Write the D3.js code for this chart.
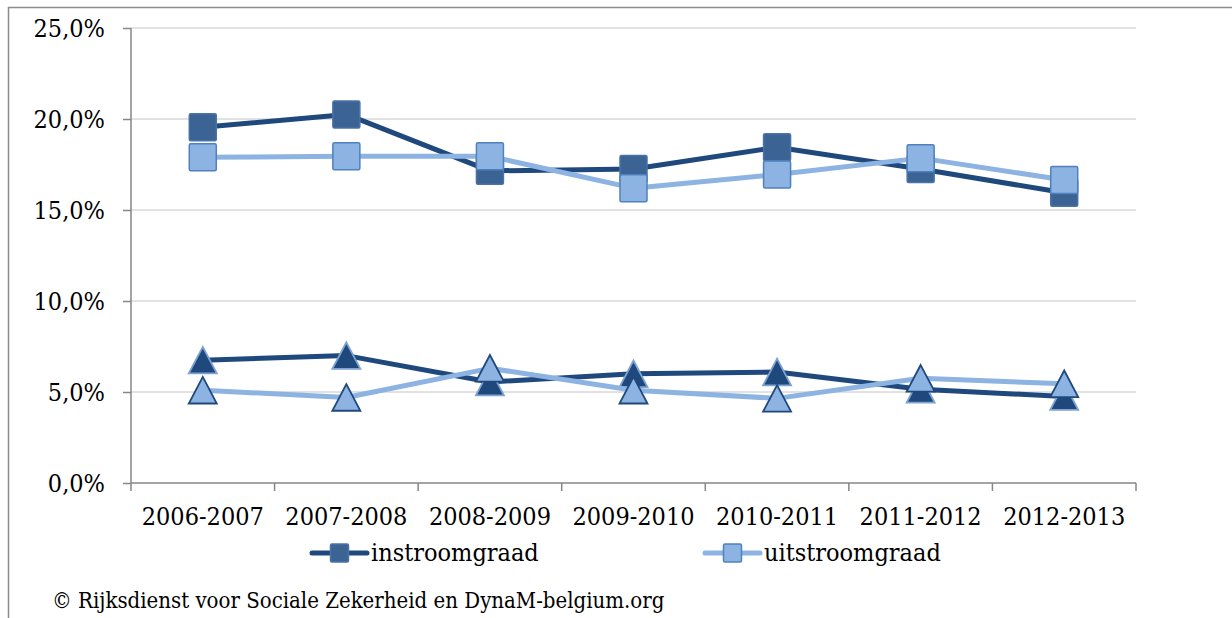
<!DOCTYPE html>
<html>
<head>
<meta charset="utf-8" />
<title>Instroom- en uitstroomgraad</title>
<script src="https://d3js.org/d3.v7.min.js"></script>
<style>
  body { margin: 0; background: #ffffff; }
  svg { display: block; font-family: "DejaVu Serif Condensed", "DejaVu Serif", serif; font-stretch: condensed; }
</style>
</head>
<body>
<svg id="viz"></svg>

<script>
// data (percentages)
var categories = ["2006-2007", "2007-2008", "2008-2009", "2009-2010", "2010-2011", "2011-2012", "2012-2013"];
var instroomSq  = [19.55, 20.25, 17.15, 17.25, 18.45, 17.25, 15.95];
var uitstroomSq = [17.9, 17.95, 17.95, 16.2, 16.95, 17.85, 16.65];
var instroomTr  = [6.75, 7.0, 5.55, 6.0, 6.1, 5.15, 4.75];
var uitstroomTr = [5.1, 4.7, 6.3, 5.1, 4.65, 5.75, 5.45];
var yTicks = [0, 5, 10, 15, 20, 25];
var legendNames = ["instroomgraad", "uitstroomgraad"];
var source = "\u00a9 Rijksdienst voor Sociale Zekerheid en DynaM-belgium.org";

var width = 1232, height = 618;
var plotLeft = 131, plotRight = 1136, plotTop = 28, plotBottom = 483;

var dark = "#1f497d", light = "#8db3e2";

var series = [
  {values: instroomSq,  shape: "square",   line: dark,  fill: "#3b6393", stroke: "#4a74a8"},
  {values: uitstroomSq, shape: "square",   line: light, fill: "#8db3e2", stroke: "#4f81bd"},
  {values: instroomTr,  shape: "triangle", line: dark,  fill: "#1f497d", stroke: "#7ea3d2"},
  {values: uitstroomTr, shape: "triangle", line: light, fill: "#8db3e2", stroke: "#1f497d"}
];

var svg = d3.select("#viz")
  .attr("width", width)
  .attr("height", height);

// outer frame (only top and left edges show)
svg.append("line").attr("x1", 8).attr("x2", width).attr("y1", 7.5).attr("y2", 7.5)
  .attr("stroke", "#8c8c8c").attr("stroke-width", 1.5);
svg.append("line").attr("x1", 8.5).attr("x2", 8.5).attr("y1", 7).attr("y2", height)
  .attr("stroke", "#8c8c8c").attr("stroke-width", 1.5);

var x = d3.scaleBand().domain(categories).range([plotLeft, plotRight]);
var y = d3.scaleLinear().domain([0, 25]).range([plotBottom, plotTop]);

//gridlines
svg.append("g").selectAll("line")
  .data(yTicks.filter(function(d) { return d > 0; }))
  .enter().append("line")
  .attr("x1", plotLeft).attr("x2", plotRight)
  .attr("y1", function(d) { return y(d); })
  .attr("y2", function(d) { return y(d); })
  .attr("stroke", "#d9d9d9")
  .attr("stroke-width", 1.5);

//y axis
var yAxis = svg.append("g")
  .attr("transform", "translate(" + plotLeft + ",0)")
  .call(d3.axisLeft(y).tickValues(yTicks).tickSize(8).tickPadding(18)
    .tickFormat(function(d) { return d3.format(".1f")(d).replace(".", ",") + "%"; }));
yAxis.attr("font-family", null).attr("font-size", 25);
yAxis.selectAll("text").attr("fill", "#000");
yAxis.selectAll("line, path").attr("stroke", "#868686").attr("stroke-width", 1.5);
yAxis.select(".domain").attr("d", "M0," + plotTop + "V" + plotBottom);

//x axis
var xAxis = svg.append("g")
  .attr("transform", "translate(0," + plotBottom + ")");
xAxis.append("line").attr("x1", plotLeft).attr("x2", plotRight)
  .attr("stroke", "#868686").attr("stroke-width", 1.5);
xAxis.selectAll(".tk")
  .data(categories.concat(["end"]))
  .enter().append("line")
  .attr("x1", function(d, i) { return i < categories.length ? x(d) : plotRight; })
  .attr("x2", function(d, i) { return i < categories.length ? x(d) : plotRight; })
  .attr("y1", 0).attr("y2", 8)
  .attr("stroke", "#868686").attr("stroke-width", 1.5);
xAxis.selectAll("text")
  .data(categories)
  .enter().append("text")
  .attr("x", function(d) { return x(d) + x.bandwidth() / 2; })
  .attr("y", 42)
  .attr("text-anchor", "middle")
  .attr("font-size", 25)
  .text(function(d) { return d; });

var line = d3.line()
  .x(function(d, i) { return x(categories[i]) + x.bandwidth() / 2; })
  .y(function(d) { return y(d); });

var sq = 27, tri = 28;
function marker(g, s, cx, cy, size) {
  if (s.shape == "square") {
    g.append("rect")
      .attr("x", cx - size / 2).attr("y", cy - size / 2)
      .attr("width", size).attr("height", size)
      .attr("rx", 1.5)
      .attr("fill", s.fill).attr("stroke", s.stroke).attr("stroke-width", 1.5);
  } else {
    var h = size * 0.95;
    g.append("path")
      .attr("d", "M" + cx + "," + (cy - h / 2) + "L" + (cx + size / 2) + "," + (cy + h / 2) +
        "L" + (cx - size / 2) + "," + (cy + h / 2) + "Z")
      .attr("fill", s.fill).attr("stroke", s.stroke).attr("stroke-width", 1.8)
      .attr("stroke-linejoin", "miter");
  }
}

series.forEach(function(s) {
  var g = svg.append("g");
  g.append("path")
    .datum(s.values)
    .attr("d", line)
    .attr("fill", "none")
    .attr("stroke", s.line)
    .attr("stroke-width", 5)
    .attr("stroke-linejoin", "round")
    .attr("stroke-linecap", "round");
  s.values.forEach(function(v, i) {
    marker(g, s, x(categories[i]) + x.bandwidth() / 2, y(v), s.shape == "square" ? sq : tri);
  });
});

//legend
var legendX = [312, 705];
legendNames.forEach(function(name, i) {
  var s = series[i];
  var g = svg.append("g").attr("transform", "translate(" + legendX[i] + ",553)");
  g.append("line").attr("x1", 0).attr("x2", 55)
    .attr("stroke", s.line).attr("stroke-width", 5).attr("stroke-linecap", "round");
  marker(g, s, 27.5, 0, 18);
  g.append("text").attr("x", 59).attr("y", 8)
    .attr("font-size", 25)
    .text(name);
});

svg.append("text")
  .attr("x", 52).attr("y", 608)
  .attr("font-size", 22)
  .text(source);
</script>
</body>
</html>
